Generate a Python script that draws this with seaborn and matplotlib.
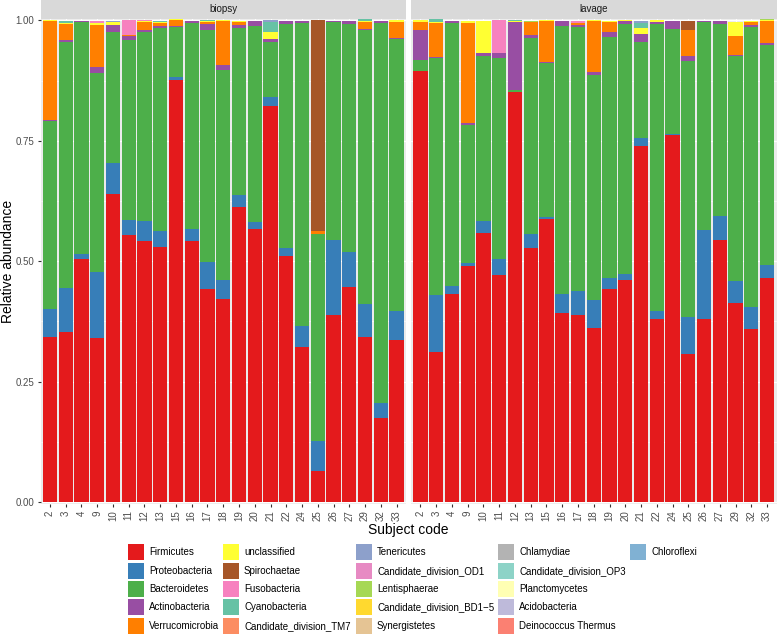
import matplotlib
matplotlib.use('Agg')
import matplotlib.pyplot as plt
import matplotlib.patches as mpatches
import pandas as pd
import seaborn as sns

# 데이터
SUBJECTS = ['2', '3', '4', '9', '10', '11', '12', '13', '15', '16', '17', '18',
            '19', '20', '21', '22', '24', '25', '26', '27', '29', '32', '33']

PHYLA = ['Firmicutes', 'Proteobacteria', 'Bacteroidetes', 'Actinobacteria',
         'Verrucomicrobia', 'unclassified', 'Spirochaetae', 'Fusobacteria',
         'Cyanobacteria', 'Candidate_division_TM7', 'Tenericutes',
         'Candidate_division_OD1', 'Lentisphaerae', 'Candidate_division_BD1\u22125',
         'Synergistetes', 'Chlamydiae', 'Candidate_division_OP3', 'Planctomycetes',
         'Acidobacteria', 'Deinococcus Thermus', 'Chloroflexi']

COLORS = ['#E41A1C', '#377EB8', '#4DAF4A', '#984EA3', '#FF7F00', '#FFFF33',
          '#A65628', '#F781BF', '#66C2A5', '#FC8D62', '#8DA0CB', '#E78AC3',
          '#A6D854', '#FFD92F', '#E5C494', '#B3B3B3', '#8DD3C7', '#FFFFB3',
          '#BEBADA', '#FB8072', '#80B1D3']

# biopsy
BIOPSY_FIRMICUTES = [0.342, 0.353, 0.505, 0.341, 0.640, 0.554, 0.543, 0.529, 0.877, 0.543, 0.443, 0.422,
                     0.613, 0.567, 0.822, 0.511, 0.321, 0.064, 0.389, 0.446, 0.343, 0.175, 0.337]
BIOPSY_PROTEO = [0.059, 0.092, 0.011, 0.137, 0.063, 0.032, 0.040, 0.034, 0.006, 0.023, 0.056, 0.039,
                 0.024, 0.014, 0.019, 0.016, 0.045, 0.062, 0.155, 0.073, 0.068, 0.030, 0.059]
BIOPSY_BACTEROID = [0.390, 0.511, 0.480, 0.413, 0.273, 0.374, 0.393, 0.422, 0.103, 0.429, 0.482, 0.437,
                    0.348, 0.408, 0.114, 0.466, 0.629, 0.430, 0.453, 0.473, 0.570, 0.789, 0.565]
BIOPSY_ACTINO = [0.003, 0.004, 0.003, 0.013, 0.014, 0.007, 0.005, 0.004, 0.002, 0.004, 0.012, 0.009,
                 0.005, 0.009, 0.006, 0.005, 0.003, 0.001, 0.002, 0.006, 0.002, 0.004, 0.002]
BIOPSY_VERRUCO = [0.205, 0.033, 0.0, 0.087, 0.0, 0.002, 0.015, 0.006, 0.012, 0.0, 0.004, 0.091,
                  0.006, 0.0, 0.0, 0.001, 0.001, 0.005, 0.0, 0.0, 0.014, 0.001, 0.034]
BIOPSY_UNCLASS = [0.002, 0.001, 0.0, 0.004, 0.007, 0.001, 0.002, 0.002, 0.002, 0.0, 0.002, 0.002,
                  0.003, 0.001, 0.015, 0.0, 0.0, 0.0, 0.0, 0.0, 0.002, 0.0, 0.003]
BIOPSY_SPIRO = [0.0, 0.0, 0.0, 0.0, 0.0, 0.0, 0.0, 0.0, 0.0, 0.0, 0.0, 0.0,
                0.0, 0.0, 0.0, 0.0, 0.0, 0.439, 0.0, 0.0, 0.0, 0.0, 0.0]
BIOPSY_FUSO = [0.0, 0.0, 0.0, 0.003, 0.0, 0.031, 0.002, 0.0, 0.0, 0.0, 0.0, 0.0,
               0.0, 0.0, 0.0, 0.0, 0.0, 0.0, 0.0, 0.0, 0.0, 0.0, 0.0]
BIOPSY_CYANO = [0.0, 0.004, 0.0, 0.0, 0.0, 0.0, 0.0, 0.002, 0.0, 0.0, 0.002, 0.0,
                0.0, 0.0, 0.021, 0.0, 0.0, 0.0, 0.0, 0.0, 0.003, 0.0, 0.0]
BIOPSY_TENERI = [0.0, 0.0, 0.0, 0.0, 0.002, 0.0, 0.0, 0.0, 0.0, 0.0, 0.0, 0.0,
                 0.0, 0.0, 0.003, 0.0, 0.0, 0.0, 0.0, 0.0, 0.0, 0.0, 0.0]

# lavage
LAVAGE_FIRMICUTES = [0.896, 0.312, 0.431, 0.491, 0.558, 0.471, 0.851, 0.527, 0.587, 0.392, 0.388, 0.361,
                     0.442, 0.462, 0.739, 0.380, 0.762, 0.308, 0.381, 0.545, 0.414, 0.359, 0.466]
LAVAGE_PROTEO = [0.0, 0.118, 0.018, 0.005, 0.025, 0.034, 0.0, 0.029, 0.004, 0.041, 0.050, 0.058,
                 0.024, 0.011, 0.017, 0.017, 0.002, 0.076, 0.184, 0.049, 0.046, 0.047, 0.026]
LAVAGE_BACTEROID = [0.022, 0.492, 0.546, 0.286, 0.343, 0.418, 0.005, 0.407, 0.321, 0.555, 0.548, 0.468,
                    0.499, 0.520, 0.200, 0.595, 0.219, 0.531, 0.432, 0.398, 0.467, 0.580, 0.458]
LAVAGE_ACTINO = [0.062, 0.002, 0.003, 0.005, 0.006, 0.010, 0.140, 0.006, 0.001, 0.010, 0.004, 0.006,
                 0.010, 0.005, 0.015, 0.004, 0.015, 0.011, 0.001, 0.006, 0.002, 0.004, 0.004]
LAVAGE_VERRUCO = [0.017, 0.071, 0.0, 0.208, 0.0, 0.0, 0.0, 0.028, 0.085, 0.0, 0.004, 0.105,
                  0.021, 0.0, 0.0, 0.0, 0.0, 0.055, 0.0, 0.0, 0.039, 0.007, 0.045]
LAVAGE_UNCLASS = [0.003, 0.001, 0.0, 0.003, 0.066, 0.0, 0.003, 0.0, 0.003, 0.0, 0.0, 0.002,
                  0.003, 0.002, 0.013, 0.004, 0.0, 0.0, 0.0, 0.0, 0.029, 0.002, 0.001]
LAVAGE_SPIRO = [0.0, 0.0, 0.0, 0.0, 0.0, 0.0, 0.0, 0.0, 0.0, 0.0, 0.0, 0.0,
                0.0, 0.0, 0.0, 0.0, 0.0, 0.017, 0.0, 0.0, 0.0, 0.0, 0.0]
LAVAGE_FUSO = [0.0, 0.0, 0.0, 0.0, 0.0, 0.067, 0.0, 0.0, 0.0, 0.0, 0.004, 0.0,
               0.0, 0.0, 0.0, 0.0, 0.0, 0.0, 0.0, 0.0, 0.0, 0.0, 0.0]
LAVAGE_CYANO = [0.0, 0.007, 0.0, 0.0, 0.0, 0.0, 0.001, 0.0, 0.0, 0.0, 0.0, 0.0,
                0.0, 0.0, 0.011, 0.0, 0.0, 0.0, 0.0, 0.0, 0.0, 0.0, 0.0]
LAVAGE_TENERI = [0.0, 0.0, 0.0, 0.0, 0.0, 0.0, 0.0, 0.0, 0.0, 0.0, 0.0, 0.0,
                 0.0, 0.0, 0.004, 0.0, 0.0, 0.0, 0.0, 0.0, 0.0, 0.0, 0.0]
LAVAGE_LENTI = [0.0, 0.0, 0.0, 0.0, 0.0, 0.0, 0.0, 0.002, 0.0, 0.0, 0.0, 0.0,
                0.0, 0.0, 0.0, 0.0, 0.0, 0.0, 0.0, 0.0, 0.0, 0.0, 0.002]

PANELS = {
    'biopsy': {
        'Firmicutes': BIOPSY_FIRMICUTES, 'Proteobacteria': BIOPSY_PROTEO,
        'Bacteroidetes': BIOPSY_BACTEROID, 'Actinobacteria': BIOPSY_ACTINO,
        'Verrucomicrobia': BIOPSY_VERRUCO, 'unclassified': BIOPSY_UNCLASS,
        'Spirochaetae': BIOPSY_SPIRO, 'Fusobacteria': BIOPSY_FUSO,
        'Cyanobacteria': BIOPSY_CYANO, 'Tenericutes': BIOPSY_TENERI,
    },
    'lavage': {
        'Firmicutes': LAVAGE_FIRMICUTES, 'Proteobacteria': LAVAGE_PROTEO,
        'Bacteroidetes': LAVAGE_BACTEROID, 'Actinobacteria': LAVAGE_ACTINO,
        'Verrucomicrobia': LAVAGE_VERRUCO, 'unclassified': LAVAGE_UNCLASS,
        'Spirochaetae': LAVAGE_SPIRO, 'Fusobacteria': LAVAGE_FUSO,
        'Cyanobacteria': LAVAGE_CYANO, 'Tenericutes': LAVAGE_TENERI,
        'Lentisphaerae': LAVAGE_LENTI,
    },
}

sns.set_theme(style='darkgrid', rc={
    'axes.facecolor': '#EBEBEB',
    'grid.color': 'white',
    'axes.edgecolor': 'none',
})
plt.rcParams['font.family'] = ['Liberation Sans', 'DejaVu Sans']

W, H = 777, 634
fig = plt.figure(figsize=(W / 100, H / 100), dpi=100)


def px(x0, y0, w, h):
    """픽셀 좌표 -> figure 비율"""
    return [x0 / W, 1 - (y0 + h) / H, w / W, h / H]


palette = dict(zip(PHYLA, COLORS))
panel_x = {'biopsy': 40.5, 'lavage': 411.0}
panel_w = 365.5
panel_top, panel_bot = 18.5, 504.0

for name, series in PANELS.items():
    rows = []
    for phylum, vals in series.items():
        for s, v in zip(SUBJECTS, vals):
            rows.append({'subject': s, 'phylum': phylum, 'abundance': v})
    df = pd.DataFrame(rows)
    df['subject'] = pd.Categorical(df['subject'], categories=SUBJECTS)

    ax = fig.add_axes(px(panel_x[name], panel_top, panel_w, panel_bot - panel_top))
    present = [p for p in PHYLA if p in series]
    sns.histplot(data=df, x='subject', hue='phylum', weights='abundance',
                 multiple='stack', discrete=True, shrink=0.9,
                 hue_order=present[::-1], palette=palette,
                 linewidth=0, edgecolor='none', alpha=1, legend=False, ax=ax)

    ax.set_xlim(-0.6, len(SUBJECTS) - 0.4)
    ax.set_ylim(-0.004, 1.004)
    ax.set_yticks([0, 0.25, 0.5, 0.75, 1.0])
    ax.set_yticks([0.125, 0.375, 0.625, 0.875], minor=True)
    ax.set_xticks(range(len(SUBJECTS)))
    ax.set_xticklabels(SUBJECTS, rotation=90, ha='center', va='top')
    ax.grid(True, which='major', color='white', linewidth=0.9)
    ax.grid(True, which='minor', axis='y', color='white', linewidth=0.45)
    ax.set_axisbelow(True)
    ax.set_xlabel('')
    ax.set_ylabel('')
    ax.tick_params(axis='both', which='major', length=2.5, width=0.8, color='#333333',
                   labelsize=7, labelcolor='#4D4D4D', pad=2, bottom=True, left=True)
    ax.tick_params(axis='both', which='minor', length=0)
    if name == 'biopsy':
        ax.set_yticklabels(['0.00', '0.25', '0.50', '0.75', '1.00'])
    else:
        ax.tick_params(axis='y', left=False, labelleft=False)
    for sp in ax.spines.values():
        sp.set_visible(False)

    # 패널 제목 (strip)
    sax = fig.add_axes(px(panel_x[name], 0, panel_w, panel_top))
    sax.set_facecolor('#D9D9D9')
    sax.set_xticks([])
    sax.set_yticks([])
    sax.grid(False)
    for sp in sax.spines.values():
        sp.set_visible(False)
    sax.text(0.5, 0.5, name, ha='center', va='center', fontsize=7,
             color='#1A1A1A', transform=sax.transAxes)

fig.text(8 / W, 1 - 261 / H, 'Relative abundance', rotation=90, ha='center',
         va='center', fontsize=10, color='black')
fig.text(408 / W, 1 - 530 / H, 'Subject code', ha='center', va='center',
         fontsize=10, color='black')

# 범례 (5열, 열 우선 배치)
key_x = [128, 223, 356, 498, 630]
row_y = [552.3, 570.7, 589.0, 607.3, 625.7]
for i, (phylum, color) in enumerate(zip(PHYLA, COLORS)):
    col, row = i // 5, i % 5
    x0 = key_x[col]
    yc = row_y[row]
    fig.add_artist(mpatches.Rectangle((x0 / W, 1 - (yc + 8) / H), 16 / W, 16 / H,
                                      transform=fig.transFigure, facecolor=color,
                                      edgecolor='none'))
    fig.text((x0 + 21) / W, 1 - yc / H, phylum, ha='left', va='center',
             fontsize=7, color='black')

fig.savefig('out.png', dpi=100)
